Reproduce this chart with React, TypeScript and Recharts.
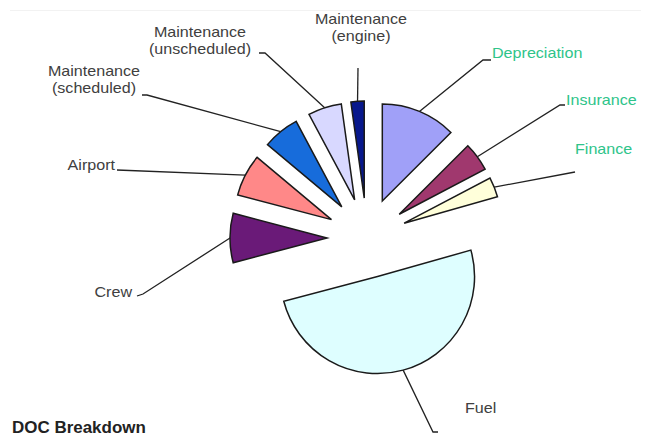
import { PieChart, Pie, Sector } from "recharts";

// DOC breakdown, share of direct operating cost (%), clockwise from 12 o'clock
const categories = [
  "Depreciation",
  "Insurance",
  "Finance",
  "Fuel",
  "Crew",
  "Airport",
  "Maintenance (scheduled)",
  "Maintenance (unscheduled)",
  "Maintenance (engine)",
];
const shares = [12.5, 4.8, 3.3, 50.3, 8.2, 7.0, 6.1, 5.6, 2.2];
const sliceColors = [
  "#a0a0f8",
  "#a0386e",
  "#ffffda",
  "#defeff",
  "#6a1a78",
  "#ff8888",
  "#176cdb",
  "#d8d8ff",
  "#08188c",
];

const data = categories.map((name, i) => ({ name, value: shares[i] }));

const GREEN = "#2ec48a";
const DARK = "#404040";
const RAD = Math.PI / 180;
const EXPLODE = 40;

// leader line elbows + text anchors, by slice index
const labelLayout: {
  path: number[][];
  x: number;
  y: number;
  anchor: "start" | "middle" | "end";
  color: string;
}[] = [
  { path: [[483, 60], [491, 60]], x: 492, y: 58, anchor: "start", color: GREEN },
  { path: [[560, 105], [565, 105]], x: 566, y: 105, anchor: "start", color: GREEN },
  { path: [[575, 172]], x: 575, y: 154, anchor: "start", color: GREEN },
  { path: [[433, 432], [438, 432]], x: 465, y: 413, anchor: "start", color: DARK },
  { path: [[143, 294], [137, 296]], x: 132, y: 297, anchor: "end", color: DARK },
  { path: [[117, 170]], x: 115, y: 170, anchor: "end", color: DARK },
  { path: [[147, 95], [142, 95]], x: 94, y: 76, anchor: "middle", color: DARK },
  { path: [[265, 53], [259, 53]], x: 200, y: 37, anchor: "middle", color: DARK },
  { path: [[358, 68]], x: 361, y: 24, anchor: "middle", color: DARK },
];

function splitName(name: string) {
  const i = name.indexOf(" (");
  return i < 0 ? [name] : [name.slice(0, i), name.slice(i + 1)];
}

function renderSlice(props: any) {
  const { cx, cy, outerRadius, startAngle, endAngle, index, name } = props;
  const mid = (startAngle + endAngle) / 2;
  const ox = cx + EXPLODE * Math.cos(-mid * RAD);
  const oy = cy + EXPLODE * Math.sin(-mid * RAD);
  const ax = ox + outerRadius * Math.cos(-mid * RAD);
  const ay = oy + outerRadius * Math.sin(-mid * RAD);
  const lay = labelLayout[index];
  const pts = [[ax, ay], ...lay.path].map((p) => p.join(",")).join(" ");
  const lines = splitName(name ?? categories[index]);

  return (
    <g key={`slice-${index}`}>
      <Sector
        cx={ox}
        cy={oy}
        innerRadius={0}
        outerRadius={outerRadius}
        startAngle={startAngle}
        endAngle={endAngle}
        fill={sliceColors[index]}
        stroke="#1a1a1a"
        strokeWidth={1.5}
      />
      <polyline points={pts} fill="none" stroke="#222" strokeWidth={1.3} />
      {lines.map((t, j) => (
        <text
          key={j}
          transform={`translate(${lay.x},${lay.y + j * 17}) scale(1.15,1)`}
          textAnchor={lay.anchor}
          fontSize={14}
          fontFamily="'Liberation Sans', Arial, sans-serif"
          fill={lay.color}
        >
          {t}
        </text>
      ))}
    </g>
  );
}

export default function App() {
  return (
    <div style={{ position: "absolute", left: 0, top: 0, width: 651, height: 438, background: "#fff" }}>
      <div
        style={{
          position: "absolute",
          left: 10,
          right: 10,
          top: 10,
          height: 1,
          background: "#f2f2f2",
        }}
      />
      <PieChart width={651} height={438} margin={{ top: 0, right: 0, bottom: 0, left: 0 }}>
        <Pie
          data={data}
          dataKey="value"
          nameKey="name"
          cx={367}
          cy={238}
          outerRadius={97}
          startAngle={90}
          endAngle={-270}
          fill="none"
          stroke="none"
          labelLine={false}
          label={renderSlice}
          isAnimationActive={false}
        />
      </PieChart>
      <div
        style={{
          position: "absolute",
          left: 12,
          top: 420,
          fontFamily: "'Liberation Sans', Arial, sans-serif",
          fontWeight: "bold",
          fontSize: 16,
          lineHeight: "16px",
          color: "#222",
          transform: "scaleX(1.06)",
          transformOrigin: "left",
          whiteSpace: "nowrap",
        }}
      >
        DOC Breakdown
      </div>
    </div>
  );
}
